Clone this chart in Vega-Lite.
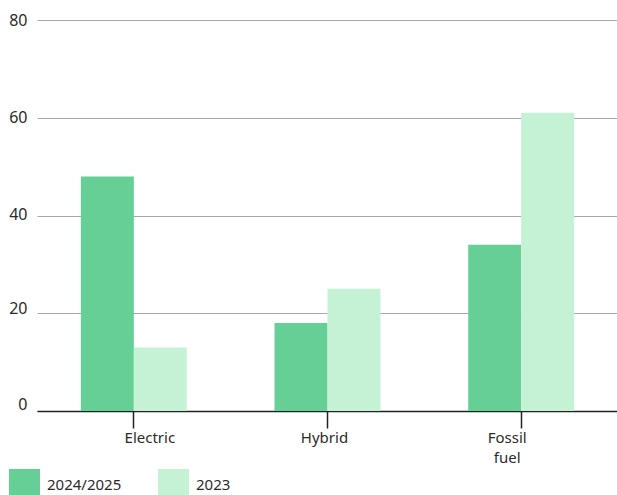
{
  "$schema": "https://vega.github.io/schema/vega-lite/v6.json",
  "width": 581,
  "height": 391,
  "autosize": {"type": "none"},
  "padding": {"left": 37, "top": 20, "right": 0, "bottom": 84},
  "background": "white",
  "config": {"view": {"stroke": null}, "font": "Noto Sans"},
  "data": {
    "values": [
      {"type": "Electric", "year": "2024/2025", "value": 48},
      {"type": "Electric", "year": "2023", "value": 13},
      {"type": "Hybrid", "year": "2024/2025", "value": 18},
      {"type": "Hybrid", "year": "2023", "value": 25},
      {"type": "Fossil fuel", "year": "2024/2025", "value": 34},
      {"type": "Fossil fuel", "year": "2023", "value": 61}
    ]
  },
  "mark": {"type": "bar"},
  "encoding": {
    "x": {
      "field": "type",
      "type": "nominal",
      "sort": ["Electric", "Hybrid", "Fossil fuel"],
      "scale": {"paddingInner": 0.453, "paddingOuter": 0.2265},
      "axis": {
        "title": null,
        "labelAngle": 0,
        "labelFontSize": 15,
        "labelColor": "#2b2b2b",
        "labelExpr": "datum.value == 'Fossil fuel' ? ['Fossil', 'fuel'] : datum.value",
        "labelLineHeight": 20,
        "labelPadding": 2,
        "labelOffset": {
          "condition": [
            {"test": "datum.value == 'Electric'", "value": 16},
            {"test": "datum.value == 'Fossil fuel'", "value": -14}
          ],
          "value": -3
        },
        "domainColor": "#222222",
        "domainWidth": 1.5,
        "tickColor": "#222222",
        "tickWidth": 1.5,
        "tickSize": 17,
        "grid": false
      }
    },
    "xOffset": {"field": "year", "sort": ["2024/2025", "2023"]},
    "y": {
      "field": "value",
      "type": "quantitative",
      "scale": {"domain": [0, 80], "nice": false},
      "axis": {
        "title": null,
        "values": [0, 20, 40, 60, 80],
        "domain": false,
        "ticks": false,
        "labelFontSize": 16,
        "labelColor": "#2b2b2b",
        "labelPadding": 10,
        "labelOffset": {
          "condition": [
            {"test": "datum.value == 0", "value": -7},
            {"test": "datum.value == 20", "value": -5},
            {"test": "datum.value == 40", "value": -1}
          ],
          "value": 0
        },
        "gridColor": "#a8a8a8",
        "gridWidth": 1.2
      }
    },
    "color": {
      "field": "year",
      "type": "nominal",
      "sort": ["2024/2025", "2023"],
      "scale": {"range": ["#66cf96", "#c5f2d5"]},
      "legend": {
        "orient": "none",
        "legendX": -28,
        "legendY": 449,
        "direction": "horizontal",
        "title": null,
        "symbolType": "square",
        "symbolSize": 961,
        "symbolStrokeWidth": 0,
        "symbolOpacity": 1,
        "labelFontSize": 15,
        "labelColor": "#2b2b2b",
        "labelOffset": 7,
        "columnPadding": 36,
        "padding": 0
      }
    }
  }
}
